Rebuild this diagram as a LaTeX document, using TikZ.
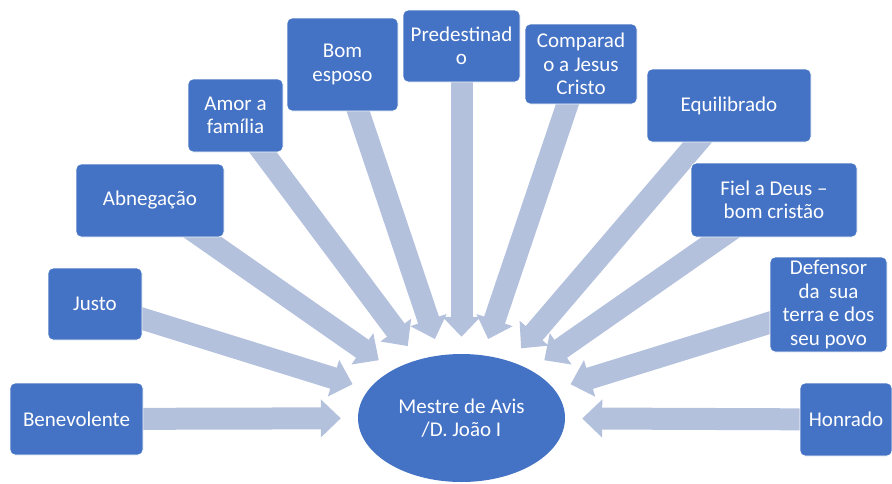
\documentclass[tikz,border=0pt]{standalone}
\usepackage{fontspec}
\setmainfont{Carlito}
\usetikzlibrary{arrows.meta, shapes.geometric, backgrounds}

\definecolor{azul}{RGB}{68,114,196}
\definecolor{cinzaazul}{RGB}{180,193,221}

\begin{document}
\begin{tikzpicture}[x=1pt, y=-1pt,
	caixa/.style={draw=white, line width=0.8pt, fill=azul, rounded corners=5pt, text=white, align=center, inner sep=2pt, font=\fontsize{21}{23.5}\selectfont},
	seta/.style={draw=cinzaazul, line width=22pt, -{Triangle[length=20pt, width=37pt]}, shorten >=17pt}
	]

\useasboundingbox (0,0) rectangle (892,483);

%Coordinates
\coordinate (c1) at (76.5,419);
\coordinate (c2) at (95,304);
\coordinate (c3) at (150,200.5);
\coordinate (c4) at (235.5,115.5);
\coordinate (c5) at (342.5,64.5);
\coordinate (c6) at (461.5,46);
\coordinate (c7) at (581,64);
\coordinate (c8) at (729,105.5);
\coordinate (c9) at (774,200);
\coordinate (c10) at (828.5,304.5);
\coordinate (c11) at (846,419.5);

\coordinate (centro) at (461.5,418);


% Centre
\node[ellipse, fill=azul, text=white, align=center, minimum width=207pt, minimum height=128pt, inner sep=0pt, font=\fontsize{21}{23.5}\selectfont] (mestre) at (centro) {Mestre de Avis\\/D. João I};

% Boxes, left to right
\node[caixa, minimum width=133pt, minimum height=72pt] (benevolente) at (c1) {Benevolente};
\node[caixa, minimum width=94pt, minimum height=72pt] (justo) at (c2) {Justo};
\node[caixa, minimum width=148pt, minimum height=73pt] (abnegacao) at (c3) {Abnegação};
\node[caixa, minimum width=95pt, minimum height=73pt] (amor) at (c4) {Amor a\\família};
\node[caixa, minimum width=111pt, minimum height=93pt] (esposo) at (c5) {Bom\\esposo};
\node[caixa, minimum width=117pt, minimum height=72pt] (predestinado) at (c6) {Predestinad\\o};
\node[caixa, minimum width=112pt, minimum height=80pt] (comparado) at (c7) {Comparad\\o a Jesus\\Cristo};
\node[caixa, minimum width=164pt, minimum height=73pt] (equilibrado) at (c8) {Equilibrado};
\node[caixa, minimum width=166pt, minimum height=74pt] (fiel) at (c9) {Fiel a Deus --\\bom cristão};
\node[caixa, minimum width=117pt, minimum height=95pt] (defensor) at (c10) {Defensor\\da~ sua\\terra e dos\\seu povo};
\node[caixa, minimum width=92pt, minimum height=73pt] (honrado) at (c11) {Honrado};

%%%%%%%%%%%%
% Arrows (behind the boxes)

\begin{scope}[on background layer]
\foreach \caixa in {benevolente, justo, abnegacao, amor, esposo, predestinado, comparado, equilibrado, fiel, defensor, honrado}
	\draw[seta] (\caixa.center) -- (mestre);
\end{scope}

\end{tikzpicture}
\end{document}
